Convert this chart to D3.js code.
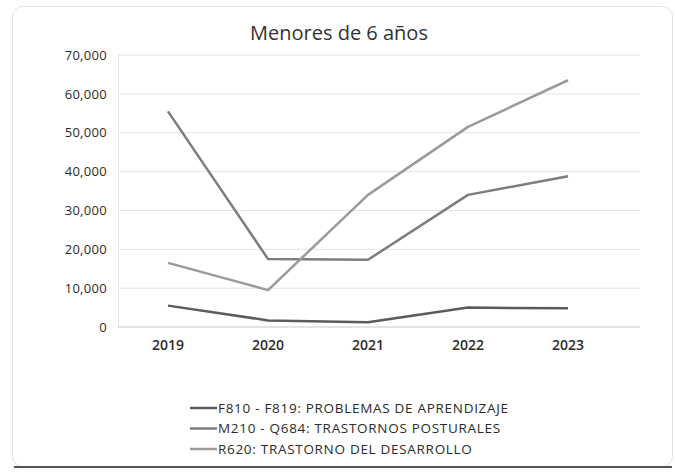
<!DOCTYPE html>
<html>
<head>
<meta charset="utf-8">
<script src="https://cdn.jsdelivr.net/npm/d3@7/dist/d3.min.js"></script>
<style>
  html, body { margin: 0; padding: 0; background: #fff; }
  body { width: 675px; height: 472px; overflow: hidden; }
  svg { display: block; font-family: "Open Sans", "Liberation Sans", sans-serif; }
</style>
</head>
<body>
<div id="chart"></div>
<script>
// values
const years = ["2019", "2020", "2021", "2022", "2023"];
const aprendizaje = [5500, 1700, 1200, 5000, 4800];
const posturales = [55500, 17500, 17300, 34000, 38800];
const desarrollo = [16500, 9500, 34000, 51500, 63500];
const yTicks = [0, 10000, 20000, 30000, 40000, 50000, 60000, 70000];

const seriesNames = [
  "F810 - F819: PROBLEMAS DE APRENDIZAJE",
  "M210 - Q684: TRASTORNOS POSTURALES",
  "R620: TRASTORNO DEL DESARROLLO",
];
const seriesColors = ["#5c5c5c", "#7d7d7d", "#9a9a9a"];
const series = [aprendizaje, posturales, desarrollo];

const width = 675, height = 472;
const m = { top: 55, right: 55, bottom: 145, left: 118 };

const svg = d3.select("#chart").append("svg")
  .attr("width", width).attr("height", height);

// card frame
svg.append("rect")
  .attr("x", 12.5).attr("y", 6.5)
  .attr("width", 660).attr("height", 460)
  .attr("rx", 10)
  .attr("fill", "#fff").attr("stroke", "#e2e2e2");
svg.append("line")
  .attr("x1", 14).attr("x2", 672).attr("y1", 467).attr("y2", 467)
  .attr("stroke", "#555").attr("stroke-width", 2);

svg.append("text")
  .attr("x", 339).attr("y", 40)
  .attr("text-anchor", "middle")
  .attr("fill", "#333").style("font-size", "20px")
  .text("Menores de 6 años");

const x = d3.scaleBand().domain(years).range([m.left, 618]);
const y = d3.scaleLinear().domain([0, 70000]).range([327, 55]);

// gridlines
svg.append("g").selectAll("line").data(yTicks.filter((d) => d > 0)).join("line")
  .attr("x1", m.left).attr("x2", 640)
  .attr("y1", (d) => y(d)).attr("y2", (d) => y(d))
  .attr("stroke", "#e4e4e4");

svg.append("g")
  .attr("transform", `translate(${m.left},0)`)
  .call(d3.axisLeft(y).tickValues(yTicks).tickFormat(d3.format(",")).tickSize(0).tickPadding(11))
  .call((g) => g.select(".domain").attr("stroke", "#e6e6e6"))
  .selectAll("text").attr("fill", "#2b2b2b")
  .style("font-size", "13px").style("letter-spacing", "0.3px")
  .style("font-family", "'Open Sans', sans-serif");

svg.append("g")
  .attr("transform", `translate(0,${y(0)})`)
  .call(d3.axisBottom(x).tickSize(0).tickPadding(13))
  .call((g) => g.select(".domain").attr("stroke", "#c8c8c8").attr("d", `M${m.left},0H640`))
  .selectAll("text").attr("fill", "#2b2b2b")
  .style("font-size", "14px").style("font-weight", 600)
  .style("font-family", "'Open Sans', sans-serif");

const line = d3.line()
  .x((d, i) => x(years[i]) + x.bandwidth() / 2)
  .y((d) => y(d));

series.forEach((vals, i) => {
  svg.append("path")
    .datum(vals)
    .attr("fill", "none")
    .attr("stroke", seriesColors[i])
    .attr("stroke-width", 2.5)
    .attr("stroke-linejoin", "round")
    .attr("d", line);
});

// legend
const leg = svg.append("g").attr("transform", "translate(190,408)");
seriesNames.forEach((name, i) => {
  const g = leg.append("g").attr("transform", `translate(0,${i * 20.5})`);
  g.append("line")
    .attr("x1", 0).attr("x2", 27)
    .attr("stroke", seriesColors[i]).attr("stroke-width", 2.5);
  g.append("text")
    .attr("x", 28).attr("y", 4.5)
    .attr("fill", "#2b2b2b").style("font-size", "13.5px")
    .style("letter-spacing", "0.7px")
    .text(name);
});
</script>
</body>
</html>
